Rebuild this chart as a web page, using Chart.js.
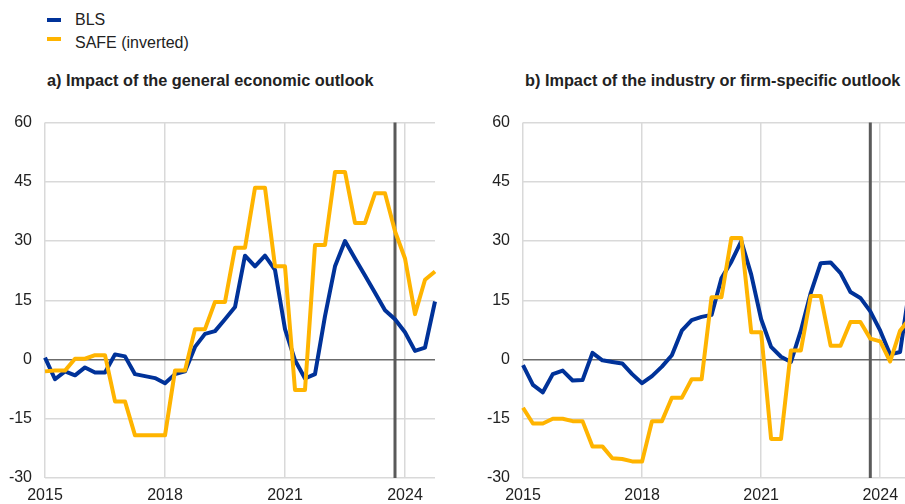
<!DOCTYPE html>
<html>
<head>
<meta charset="utf-8">
<script src="https://cdn.jsdelivr.net/npm/chart.js@4.4.1/dist/chart.umd.min.js"></script>
<style>
  html, body { margin: 0; padding: 0; background: #fff; }
  body { width: 905px; height: 504px; overflow: hidden; position: relative; font-family: "Liberation Sans", Arial, sans-serif; color: #222; }
  canvas { position: absolute; top: 100px; }
  #left { left: 0; }
  #right { left: 450px; }
  .sw { position: absolute; left: 47px; width: 14px; height: 4px; }
  .lg { position: absolute; left: 75px; font-size: 16px; line-height: 18px; }
  .ttl { position: absolute; top: 71px; font-size: 16.3px; font-weight: bold; line-height: 18px; }
</style>
</head>
<body>
<div class="sw" style="top:18px;background:#003299"></div>
<div class="lg" style="top:11px">BLS</div>
<div class="sw" style="top:37px;background:#ffb400"></div>
<div class="lg" style="top:34px">SAFE (inverted)</div>
<div class="ttl" style="left:47px">a) Impact of the general economic outlook</div>
<div class="ttl" style="left:525px">b) Impact of the industry or firm-specific outlook</div>
<canvas id="left" width="450" height="420"></canvas>
<canvas id="right" width="475" height="420"></canvas>
<script>
const quarters = [
  '2015Q1','2015Q2','2015Q3','2015Q4','2016Q1','2016Q2','2016Q3','2016Q4',
  '2017Q1','2017Q2','2017Q3','2017Q4','2018Q1','2018Q2','2018Q3','2018Q4',
  '2019Q1','2019Q2','2019Q3','2019Q4','2020Q1','2020Q2','2020Q3','2020Q4',
  '2021Q1','2021Q2','2021Q3','2021Q4','2022Q1','2022Q2','2022Q3','2022Q4',
  '2023Q1','2023Q2','2023Q3','2023Q4','2024Q1','2024Q2','2024Q3','2024Q4'
];
const yearTicks = ['2015', '2018', '2021', '2024'];
const yTicks = [-30, -15, 0, 15, 30, 45, 60];
const cutoffQuarter = '2023Q4';

// a) general economic outlook
const blsGeneral = [0.5, -5, -3, -4, -2, -3.3, -3.3, 1.3, 0.8, -3.7, -4.2, -4.7, -6, -3.7, -3, 3.2,
  6.5, 7.2, 10.2, 13.3, 26.3, 23.6, 26.3, 22.7, 7.7, -0.2, -4.8, -3.7, 11, 23.6,
  30, 25.6, 21.3, 16.9, 12.5, 10.2, 6.9, 2.2, 3, 14.7];
const safeGeneral = [-3, -2.8, -2.8, 0.2, 0.2, 1.1, 1.1, -10.6, -10.6, -19.2, -19.2, -19.2, -19.2, -2.8, -2.8, 7.7,
  7.7, 14.6, 14.6, 28.3, 28.3, 43.5, 43.5, 23.6, 23.6, -7.7, -7.7, 29, 29, 47.5,
  47.5, 34.6, 34.6, 42.1, 42.1, 32.5, 25.6, 11.5, 20.2, 22.3];

// b) industry or firm-specific outlook
const blsFirm = [-1.4, -6.4, -8.3, -3.7, -2.8, -5.3, -5.2, 1.7, -0.2, -0.6, -1, -3.7, -6, -4.2, -1.8, 1.1,
  7.3, 10, 10.8, 11.3, 20.6, 24.8, 30, 21.5, 10.2, 3.2, 0.7, -0.6, 7.3, 16.9,
  24.4, 24.6, 21.9, 17.1, 15.6, 12.2, 7.3, 1.3, 1.9, 19];
const safeFirm = [-12.2, -16.2, -16.2, -15, -15, -15.6, -15.6, -22, -22, -25, -25.2, -25.8, -25.8, -15.6, -15.6, -9.7,
  -9.7, -5, -5, 15.8, 15.8, 30.8, 30.8, 6.9, 6.9, -20.1, -20.1, 2.3, 2.3, 16.1,
  16.1, 3.5, 3.5, 9.5, 9.5, 5.3, 4.6, -0.5, 7.3, 10.5];

const BLUE = '#003299';
const YELLOW = '#ffb400';

function yearAt(i) {
  const q = quarters[i];
  return q.endsWith('Q1') && yearTicks.includes(q.slice(0, 4)) ? q.slice(0, 4) : '';
}

const cutoffLine = {
  id: 'cutoffLine',
  beforeDatasetsDraw(chart) {
    const x = chart.scales.x.getPixelForValue(quarters.indexOf(cutoffQuarter));
    const { top, bottom } = chart.chartArea;
    const c = chart.ctx;
    c.save();
    c.strokeStyle = '#5a5a5a';
    c.lineWidth = 3;
    c.beginPath();
    c.moveTo(x, top);
    c.lineTo(x, bottom);
    c.stroke();
    c.restore();
  }
};

function createChart(id, bls, safe, yAxisWidth) {
  return new Chart(document.getElementById(id).getContext('2d'), {
    type: 'line',
    data: {
      labels: quarters,
      datasets: [
        { label: 'SAFE (inverted)', data: safe, borderColor: YELLOW, borderWidth: 4, pointRadius: 0, tension: 0, borderJoinStyle: 'round' },
        { label: 'BLS', data: bls, borderColor: BLUE, borderWidth: 4, pointRadius: 0, tension: 0, borderJoinStyle: 'round' }
      ]
    },
    options: {
      responsive: false,
      animation: false,
      layout: { padding: { top: 19, right: 15, bottom: 0, left: 0 } },
      plugins: { legend: { display: false }, tooltip: { enabled: false } },
      scales: {
        x: {
          type: 'category',
          offset: false,
          border: { display: false },
          grid: {
            drawTicks: false,
            lineWidth: 1.5,
            color: (ctx) => yearAt(ctx.index) ? '#d9d9d9' : 'rgba(0,0,0,0)'
          },
          ticks: {
            autoSkip: false,
            maxRotation: 0,
            padding: 8,
            color: '#222',
            font: { family: 'Liberation Sans', size: 16 },
            callback: (v, i) => yearAt(i)
          },
          afterFit: (axis) => { axis.height = 42; }
        },
        y: {
          min: -30,
          max: 60,
          border: { display: false },
          afterBuildTicks: (axis) => { axis.ticks = yTicks.map(v => ({ value: v })); },
          grid: {
            drawTicks: false,
            lineWidth: 1.5,
            color: (ctx) => ctx.tick.value === 0 ? '#6b6b6b' : '#d9d9d9'
          },
          ticks: {
            padding: 13,
            color: '#222',
            font: { family: 'Liberation Sans', size: 16 }
          },
          afterFit: (axis) => { axis.width = yAxisWidth; }
        }
      }
    },
    plugins: [cutoffLine]
  });
}

createChart('left', blsGeneral, safeGeneral, 45);
createChart('right', blsFirm, safeFirm, 73);
</script>
</body>
</html>
